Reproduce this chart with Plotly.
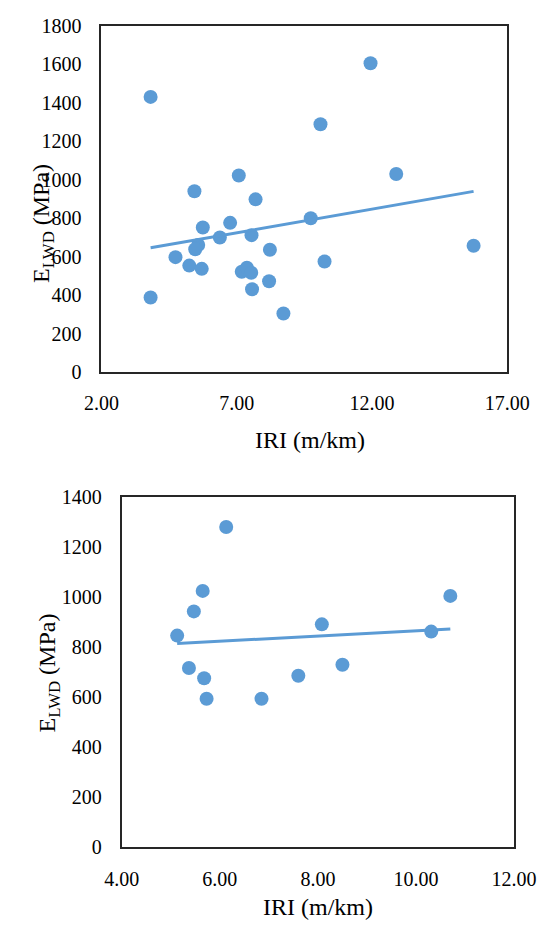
import numpy as np
import plotly.graph_objects as go

# ---------- data ----------
top_iri = [3.82, 11.95, 10.10, 12.90, 7.08, 5.44, 7.70, 9.74, 6.76, 5.75, 6.38, 7.55, 5.58, 5.47,
           8.23, 4.74, 5.25, 5.71, 10.25, 15.76, 7.19, 7.38, 7.54, 8.20, 7.57, 8.73, 3.82]
top_elwd = [1430, 1605, 1288, 1030, 1022, 940, 898, 800, 776, 752, 700, 712, 661, 639,
            636, 598, 554, 537, 575, 657, 522, 543, 517, 473, 431, 305, 388]

bot_iri = [6.13, 5.65, 5.47, 5.13, 5.37, 5.68, 5.73, 6.85, 7.60, 8.50, 8.08, 10.31, 10.70]
bot_elwd = [1281, 1025, 943, 846, 716, 675, 593, 593, 685, 729, 891, 862, 1005]

top_xticks = [2, 7, 12, 17]
top_yticks = [0, 200, 400, 600, 800, 1000, 1200, 1400, 1600, 1800]
bot_xticks = [4, 6, 8, 10, 12]
bot_yticks = [0, 200, 400, 600, 800, 1000, 1200, 1400]

x_title = "IRI (m/km)"
y_title = "E<sub>LWD</sub> (MPa)"

# ---------- styling ----------
W, H = 557, 934
BLUE = "#5B9BD5"
FONT = "'Times New Roman', 'Liberation Serif', 'DejaVu Serif', serif"
FRAME = "#262626"


def fx(p):
    return p / W


def fy(p):
    return 1 - p / H


def trend(x, y):
    x = np.asarray(x, float)
    y = np.asarray(y, float)
    m, b = np.polyfit(x, y, 1)
    xs = np.array([x.min(), x.max()])
    return xs, m * xs + b


fig = go.Figure()

fig.add_trace(go.Scatter(x=top_iri, y=top_elwd, mode="markers",
                         marker=dict(color=BLUE, size=14), xaxis="x", yaxis="y"))
tx, ty = trend(top_iri, top_elwd)
fig.add_trace(go.Scatter(x=tx, y=ty, mode="lines", line=dict(color=BLUE, width=3),
                         xaxis="x", yaxis="y"))

fig.add_trace(go.Scatter(x=bot_iri, y=bot_elwd, mode="markers",
                         marker=dict(color=BLUE, size=14), xaxis="x2", yaxis="y2"))
bx, by = trend(bot_iri, bot_elwd)
fig.add_trace(go.Scatter(x=bx, y=by, mode="lines", line=dict(color=BLUE, width=3),
                         xaxis="x2", yaxis="y2"))

tickfont = dict(family=FONT, size=20, color="black")
common = dict(showgrid=False, zeroline=False, showline=True, mirror=True,
              linecolor=FRAME, linewidth=2, ticks="outside",
              tickcolor="rgba(0,0,0,0)", tickfont=tickfont, fixedrange=True)

fig.update_layout(
    width=W, height=H, margin=dict(l=0, r=0, t=0, b=0),
    paper_bgcolor="white", plot_bgcolor="white", showlegend=False,
    font=dict(family=FONT, color="black"),
    xaxis=dict(domain=[fx(90), fx(528)], range=[2, 17], tickvals=top_xticks,
               tickformat=".2f", anchor="y", ticklen=12, **common),
    yaxis=dict(domain=[fy(370), fy(15)], range=[0, 1800], tickvals=top_yticks,
               anchor="x", ticklen=14, **common),
    xaxis2=dict(domain=[fx(112), fx(535.5)], range=[4, 12], tickvals=bot_xticks,
                tickformat=".2f", anchor="y2", ticklen=13, **common),
    yaxis2=dict(domain=[fy(856), fy(498)], range=[0, 1400], tickvals=bot_yticks,
                anchor="x2", ticklen=14, **common),
)

title_font = dict(family=FONT, size=24, color="black")
fig.add_annotation(text=x_title, xref="paper", yref="paper", x=fx(315), y=fy(439),
                   xanchor="center", yanchor="middle", showarrow=False, font=title_font)
fig.add_annotation(text=x_title, xref="paper", yref="paper", x=fx(324), y=fy(918),
                   xanchor="center", yanchor="middle", showarrow=False, font=title_font)
fig.add_annotation(text=y_title, xref="paper", yref="paper", x=fx(27), y=fy(218),
                   xanchor="center", yanchor="middle", showarrow=False, font=title_font,
                   textangle=-90)
fig.add_annotation(text=y_title, xref="paper", yref="paper", x=fx(34), y=fy(678),
                   xanchor="center", yanchor="middle", showarrow=False, font=title_font,
                   textangle=-90)

fig.write_html("out.html")
